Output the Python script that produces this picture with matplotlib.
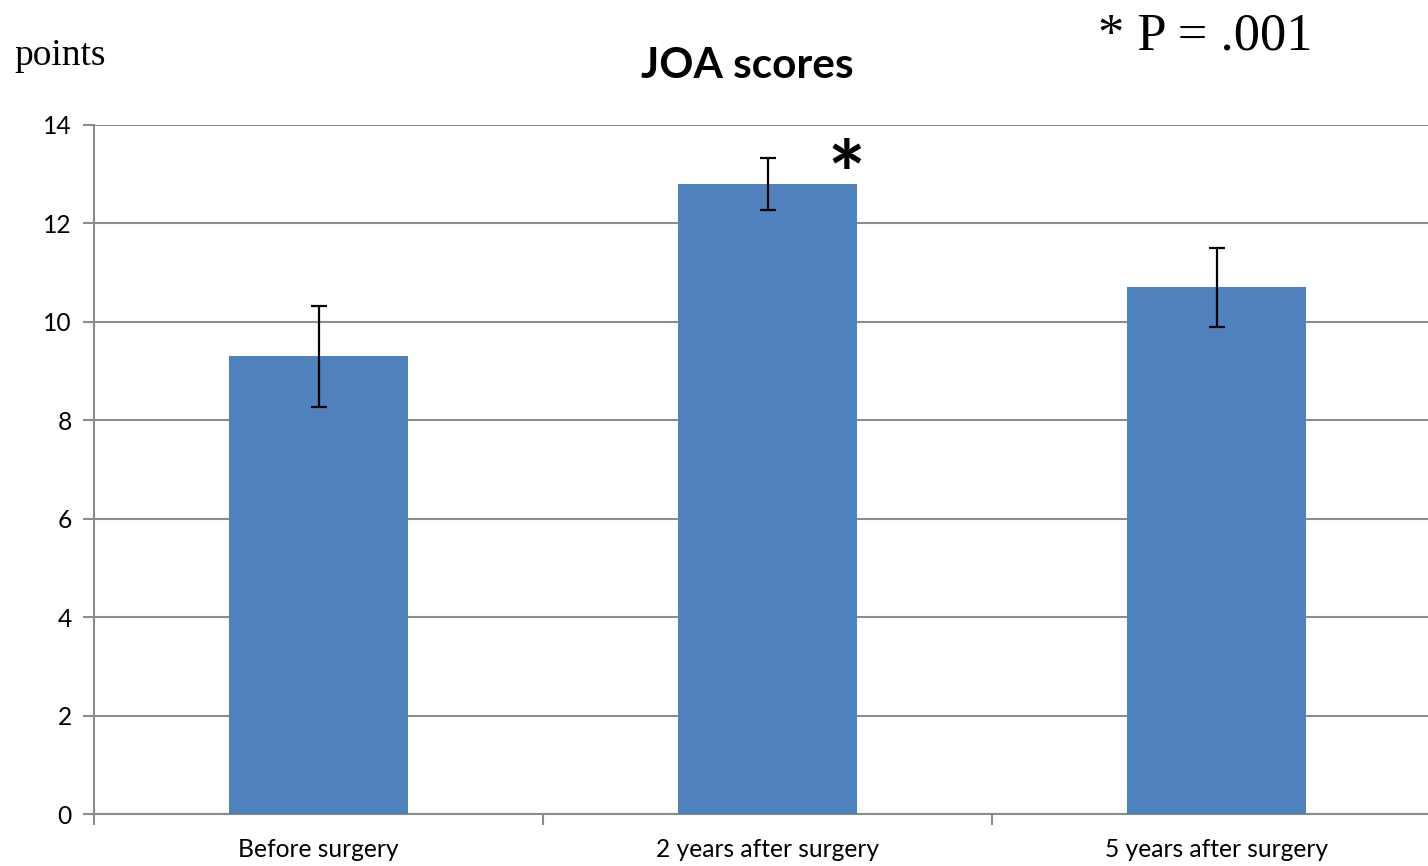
import matplotlib
matplotlib.use("Agg")
import matplotlib.pyplot as plt
import numpy as np

categories = ["Before surgery", "2 years after surgery", "5 years after surgery"]
means = [9.3, 12.8, 10.7]
errors = [1.03, 0.53, 0.80]
y_ticks = [0, 2, 4, 6, 8, 10, 12, 14]

W, H = 1428, 866
fig = plt.figure(figsize=(W / 100, H / 100), dpi=100)
ax = fig.add_axes([94 / W, (H - 814) / H, 1347 / W, (814 - 125) / H])

x = np.arange(len(categories))
ax.bar(x, means, width=0.4, color="#4F81BD", zorder=3)
ax.errorbar(x, means, yerr=errors, fmt="none", ecolor="black",
            elinewidth=1.6, capsize=6, capthick=1.6, zorder=4)

ax.set_xlim(-0.5, len(categories) - 0.5)
ax.set_ylim(0, 14)
ax.set_yticks(y_ticks)
ax.yaxis.grid(True, color="#8c8c8c", linewidth=1.5, zorder=0)
ax.set_axisbelow(True)

grey = "#8c8c8c"
for side in ["top", "right"]:
    ax.spines[side].set_visible(False)
for side in ["left", "bottom"]:
    ax.spines[side].set_color(grey)
    ax.spines[side].set_linewidth(1.5)

ax.set_xticks(x)
ax.set_xticklabels(categories)
ax.set_xticks(np.arange(-0.5, len(categories)), minor=True)
ax.tick_params(axis="x", which="major", length=0, pad=17)
ax.tick_params(axis="x", which="minor", length=8, width=1.5, color=grey, direction="out")
ax.tick_params(axis="y", length=8, width=1.5, color=grey, direction="out", pad=8)
for lab in ax.get_xticklabels() + ax.get_yticklabels():
    lab.set_fontfamily("Lato")
    lab.set_fontsize(17.7)

fig.text(747 / W, 1 - 66 / H, "JOA scores", ha="center", va="center",
         fontsize=30.5, fontweight="bold", family="Lato")
fig.text(14 / W, 1 - 56 / H, "points", ha="left", va="center",
         fontsize=27, family="Liberation Serif")
fig.text(1205 / W, 1 - 37 / H, "* P = .001", ha="center", va="center",
         fontsize=37.8, family="Liberation Serif")

# significance marker beside the 2-year bar
ax.annotate("*", xy=(1 + 0.175, means[1] + errors[1]), xytext=(0, -23),
            textcoords="offset pixels", ha="center", va="center",
            fontsize=64, fontweight="bold", family="Lato")

fig.savefig("out.png", dpi=100)
